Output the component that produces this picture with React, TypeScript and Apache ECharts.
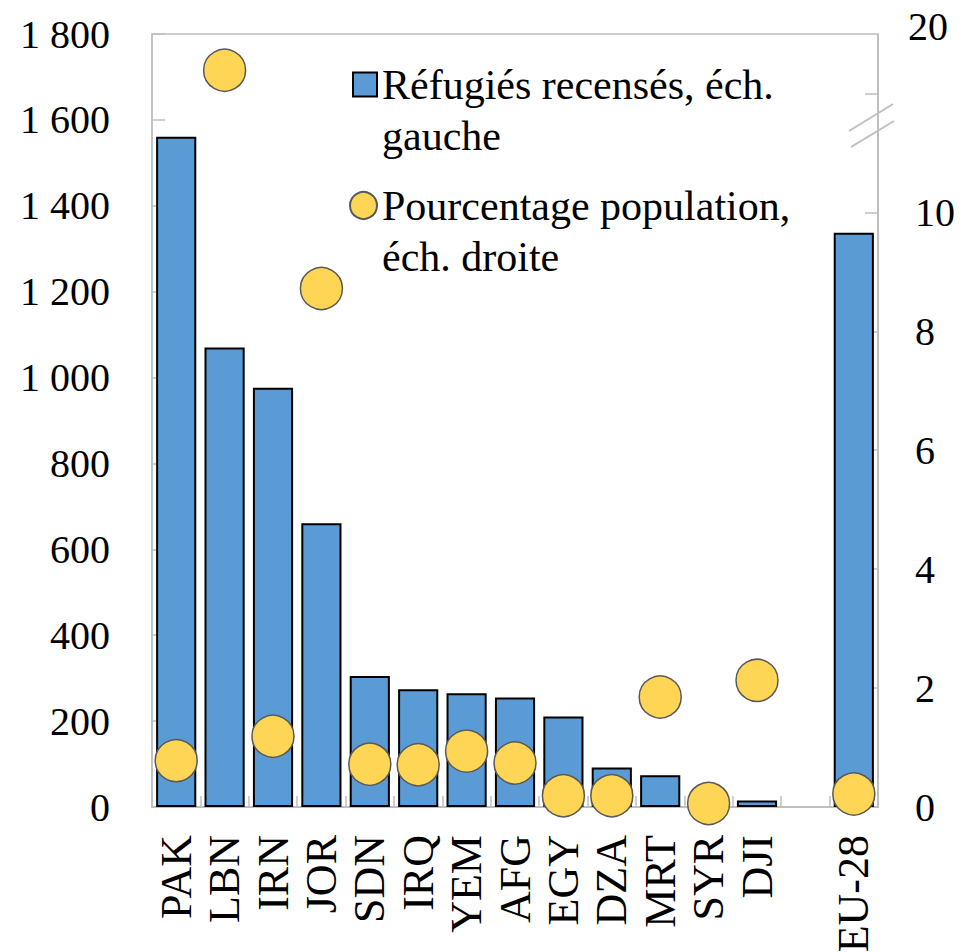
import React, { useEffect, useRef } from 'react';
import * as echarts from 'echarts';

const categories = ['PAK', 'LBN', 'IRN', 'JOR', 'SDN', 'IRQ', 'YEM', 'AFG', 'EGY', 'DZA', 'MRT', 'SYR', 'DJI', '', 'EU-28'];
// Refugees (thousands), left axis
const refugees = [1561, 1070, 976, 661, 305, 274, 265, 255, 211, 92, 74, 0, 15, null, 1337];
// Share of population (%), right axis (LBN drawn inside the broken segment)
const popShare = [0.78, 12.39, 1.19, 8.72, 0.72, 0.71, 0.94, 0.74, 0.19, 0.19, 1.85, 0.06, 2.13, null, 0.22];
const leftMax = 1800;
const leftInterval = 200;
const rightMax = 13;
const rightTickValues = [0, 2, 4, 6, 8, 10, 12];
const rightLabelValues = [0, 2, 4, 6, 8, 10];
const rightTopLabel = '20';
const barName = 'Réfugiés recensés, éch.\ngauche';
const dotName = 'Pourcentage population,\néch. droite';

const FONT = 'Liberation Serif, serif';
const AXIS_GRAY = '#bfbfbf';

function fmtThousands(v: number): string {
  if (v >= 1000) {
    return Math.floor(v / 1000) + ' ' + String(v % 1000).padStart(3, '0');
  }
  return String(v);
}

export default function App() {
  const ref = useRef<HTMLDivElement>(null);
  useEffect(() => {
    document.body.style.margin = '0';
    if (!ref.current) return;
    const chart = echarts.init(ref.current, undefined, { renderer: 'svg' });
    const legendText = {
      fontFamily: FONT,
      fontSize: 42,
      lineHeight: 51,
      color: '#000',
    };
    chart.setOption({
      animation: false,
      backgroundColor: '#fff',
      grid: {
        left: 152,
        right: 87,
        top: 34,
        bottom: 145,
        show: true,
        borderColor: AXIS_GRAY,
        borderWidth: 1.5,
        containLabel: false,
        outerBoundsMode: 'none',
      },
      legend: [
        {
          data: [barName],
          orient: 'vertical',
          left: 352,
          top: 8,
          padding: 0,
          itemWidth: 24,
          itemHeight: 24,
          icon: 'rect',
          formatter: (n: string) => '\n' + n,
          textStyle: legendText,
          selectedMode: false,
        },
        {
          data: [dotName],
          orient: 'vertical',
          left: 349,
          top: 129,
          padding: 0,
          itemWidth: 27,
          itemHeight: 27,
          icon: 'circle',
          formatter: (n: string) => '\n' + n,
          textStyle: legendText,
          selectedMode: false,
        },
      ],
      xAxis: {
        type: 'category',
        data: categories,
        boundaryGap: true,
        axisLine: { show: true, lineStyle: { color: AXIS_GRAY, width: 2 } },
        axisTick: { show: true, inside: true, length: 11, alignWithLabel: false, lineStyle: { color: AXIS_GRAY, width: 1.5 } },
        axisLabel: {
          interval: 0,
          rotate: 90,
          margin: 28,
          color: '#000',
          fontFamily: FONT,
          fontSize: 44,
        },
        splitLine: { show: false },
      },
      yAxis: [
        {
          type: 'value',
          min: 0,
          max: leftMax,
          interval: leftInterval,
          axisLine: { show: true, lineStyle: { color: AXIS_GRAY, width: 1.5 } },
          axisTick: { show: true, inside: true, length: 13, lineStyle: { color: AXIS_GRAY, width: 1.5 } },
          axisLabel: {
            margin: 42,
            color: '#000',
            fontFamily: FONT,
            fontSize: 40,
            formatter: (v: number) => fmtThousands(v),
          },
          splitLine: { show: false },
        },
        {
          type: 'value',
          position: 'right',
          min: 0,
          max: rightMax,
          interval: 2,
          axisLine: { show: true, lineStyle: { color: AXIS_GRAY, width: 2 } },
          axisTick: { show: true, inside: true, length: 13, customValues: rightTickValues, lineStyle: { color: AXIS_GRAY, width: 1.5 } },
          axisLabel: {
            margin: 37,
            color: '#000',
            fontFamily: FONT,
            fontSize: 40,
            customValues: rightLabelValues,
            formatter: (v: number) => String(v),
          },
          splitLine: { show: false },
        },
      ],
      graphic: [
        {
          type: 'text',
          left: 908,
          top: 6,
          style: { text: rightTopLabel, fontFamily: FONT, fontSize: 40, fill: '#000' },
        },
        {
          type: 'line',
          shape: { x1: 849, y1: 131, x2: 893, y2: 104 },
          style: { stroke: AXIS_GRAY, lineWidth: 2 },
        },
        {
          type: 'line',
          shape: { x1: 851, y1: 147, x2: 894, y2: 121 },
          style: { stroke: AXIS_GRAY, lineWidth: 2 },
        },
      ],
      series: [
        {
          name: barName,
          type: 'bar',
          yAxisIndex: 0,
          data: refugees,
          barCategoryGap: '17%',
          itemStyle: { color: '#5B9BD5', borderColor: '#000', borderWidth: 2 },
        },
        {
          name: dotName,
          type: 'scatter',
          yAxisIndex: 1,
          data: popShare,
          symbol: 'circle',
          symbolSize: 42,
          itemStyle: { color: '#FFD556', borderColor: '#595959', borderWidth: 1.5, opacity: 1 },
        },
      ],
    });
    return () => chart.dispose();
  }, []);
  return <div ref={ref} style={{ width: 965, height: 952 }} />;
}
